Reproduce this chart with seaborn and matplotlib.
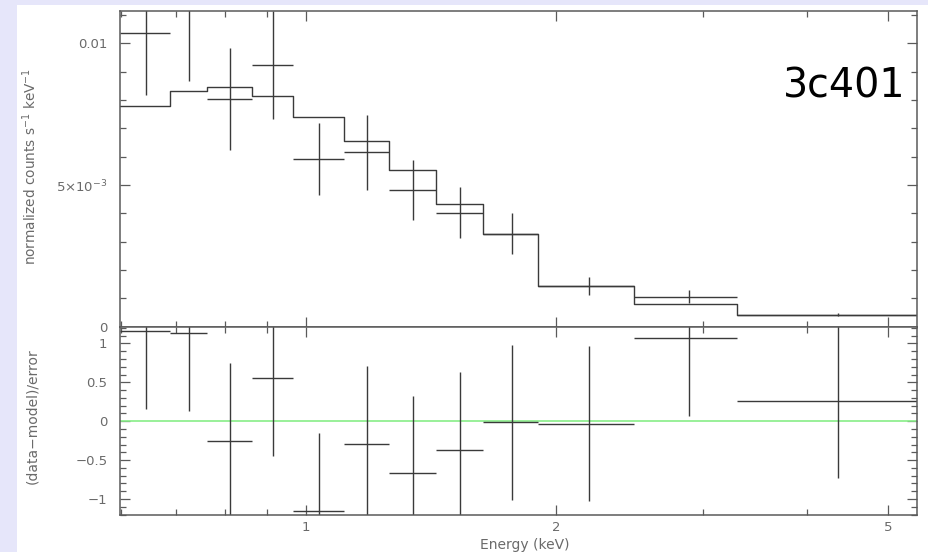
import matplotlib
matplotlib.use("Agg")
import matplotlib.pyplot as plt
import pandas as pd
import seaborn as sns
from matplotlib.patches import Rectangle
from matplotlib.ticker import FixedLocator, FixedFormatter, NullFormatter

# ---------------- data ----------------
bin_lo = [0.599, 0.687, 0.761, 0.862, 0.965, 1.111, 1.258, 1.434, 1.633, 1.901, 2.481, 3.289]
bin_hi = [0.687, 0.761, 0.862, 0.965, 1.111, 1.258, 1.434, 1.633, 1.901, 2.481, 3.289, 5.41]
rate = [0.01037, 0.01139, 0.00802, 0.00923, 0.00591, 0.00615, 0.00482, 0.00402,
        0.00328, 0.00143, 0.00106, 0.00043]
rate_err = [0.00219, 0.00272, 0.00180, 0.00190, 0.00128, 0.00132, 0.00107, 0.00090,
            0.00072, 0.00031, 0.00024, 0.00007]
model = [0.00779, 0.00832, 0.00847, 0.00815, 0.00741, 0.00656, 0.00554, 0.00434,
         0.00328, 0.00144, 0.00080, 0.00041]
resid = [1.163, 1.13, -0.254, 0.551, -1.15, -0.293, -0.67, -0.37, -0.014, -0.03, 1.065, 0.264]
resid_err = [1.0, 1.0, 1.0, 1.0, 1.0, 1.0, 1.0, 1.0, 1.0, 1.0, 1.0, 1.0]

x_major = [1, 2, 5]
x_major_labels = ["1", "2", "5"]
x_minor = [0.6, 0.7, 0.8, 0.9, 3, 4]
top_yticks = [0.0, 0.005, 0.01]
top_ylabels = ["0", r"5$\times$10$^{-3}$", "0.01"]
top_yminor = [0.001, 0.002, 0.003, 0.004, 0.006, 0.007, 0.008, 0.009, 0.011]
bot_yticks = [-1.0, -0.5, 0.0, 0.5, 1.0]
bot_ylabels = ["\u22121", "\u22120.5", "0", "0.5", "1"]
bot_yminor = [-1.2, -1.1, -0.9, -0.8, -0.7, -0.6, -0.4, -0.3, -0.2, -0.1,
              0.1, 0.2, 0.3, 0.4, 0.6, 0.7, 0.8, 0.9, 1.1, 1.2]
source_name = "3c401"
x_label = "Energy (keV)"
top_y_label = r"normalized counts s$^{-1}$ keV$^{-1}$"
bot_y_label = "(data\u2212model)/error"

# ---------------- style ----------------
sns.set_style("ticks")
plt.rcParams["font.family"] = ["DejaVu Sans"]
plt.rcParams["mathtext.fontset"] = "dejavusans"

line_c = "#3a3a3a"
axis_c = "#5a5a5a"
text_c = "#6a6a6a"
green_c = "#88ee88"

W, H = 929, 552
fig = plt.figure(figsize=(W / 100, H / 100), dpi=100, facecolor="#e6e6fa")
fig.add_artist(Rectangle((17 / W, 0), 1, 1 - 5 / H, transform=fig.transFigure,
                         facecolor="white", edgecolor="none", zorder=-5))

left, right = 120 / W, 916.7 / W
y_top, y_mid, y_bot = 1 - 11 / H, 1 - 326.7 / H, 1 - 515 / H
ax1 = fig.add_axes([left, y_mid, right - left, y_top - y_mid])
ax2 = fig.add_axes([left, y_bot, right - left, y_mid - y_bot], sharex=ax1)

centers = [(a + b) / 2 for a, b in zip(bin_lo, bin_hi)]
halfw = [(b - a) / 2 for a, b in zip(bin_lo, bin_hi)]

for ax in (ax1, ax2):
    ax.set_xscale("log")
    ax.set_facecolor("white")

# top panel
ax1.errorbar(centers, rate, xerr=halfw, yerr=rate_err, fmt="none",
             ecolor=line_c, elinewidth=1.0, capsize=0)
step_df = pd.DataFrame({"E": bin_lo + [bin_hi[-1]], "model": model + [model[-1]]})
sns.lineplot(data=step_df, x="E", y="model", drawstyle="steps-post", color=line_c,
             lw=1.0, ax=ax1, estimator=None, sort=False)
ax1.set_xlim(bin_lo[0], bin_hi[-1])
ax1.set_ylim(0, 0.01114)

# bottom panel
ax2.axhline(0, color=green_c, lw=1.2, zorder=1)
ax2.errorbar(centers, resid, xerr=halfw, yerr=resid_err, fmt="none",
             ecolor=line_c, elinewidth=1.0, capsize=0, zorder=2)
ax2.set_ylim(-1.206, 1.215)

for ax in (ax1, ax2):
    ax.xaxis.set_major_locator(FixedLocator(x_major))
    ax.xaxis.set_minor_locator(FixedLocator(x_minor))
    ax.xaxis.set_minor_formatter(NullFormatter())
    ax.tick_params(axis="both", which="both", direction="in", top=True, right=True,
                   color=axis_c, width=0.9, labelcolor=text_c, labelsize=9.5)
    ax.tick_params(axis="x", which="major", length=7, pad=4.5)
    ax.tick_params(axis="x", which="minor", length=4)
    ax.tick_params(axis="y", which="major", length=7, pad=9)
    ax.tick_params(axis="y", which="minor", length=4)
    for sp in ax.spines.values():
        sp.set_color(axis_c)
        sp.set_linewidth(1.1)
    ax.set_xlabel("")
    ax.set_ylabel("")

ax1.xaxis.set_major_formatter(NullFormatter())
ax1.tick_params(axis="x", labelbottom=False)
ax2.xaxis.set_major_formatter(FixedFormatter(x_major_labels))

ax1.yaxis.set_major_locator(FixedLocator(top_yticks))
ax1.yaxis.set_major_formatter(FixedFormatter(top_ylabels))
ax1.yaxis.set_minor_locator(FixedLocator(top_yminor))
ax2.yaxis.set_major_locator(FixedLocator(bot_yticks))
ax2.yaxis.set_major_formatter(FixedFormatter(bot_ylabels))
ax2.yaxis.set_minor_locator(FixedLocator(bot_yminor))

pw = 916.7 - 120
ax1.set_ylabel(top_y_label, color=text_c, fontsize=9.8)
ax1.yaxis.set_label_coords((39 - 120) / pw, (326.7 - 166.7) / (326.7 - 11))
ax2.set_ylabel(bot_y_label, color=text_c, fontsize=10)
ax2.yaxis.set_label_coords((39 - 120) / pw, (515 - 416.5) / (515 - 326.7))
ax2.set_xlabel(x_label, color=text_c, fontsize=10)
ax2.xaxis.set_label_coords((525 - 120) / pw, (515 - 537.5) / (515 - 326.7))
ax2.xaxis.label.set_va("top")

fig.text(905 / W, 1 - 97 / H, source_name, ha="right", va="baseline",
         fontsize=28.5, color="black")

fig.savefig("out.png", dpi=100, facecolor=fig.get_facecolor())
